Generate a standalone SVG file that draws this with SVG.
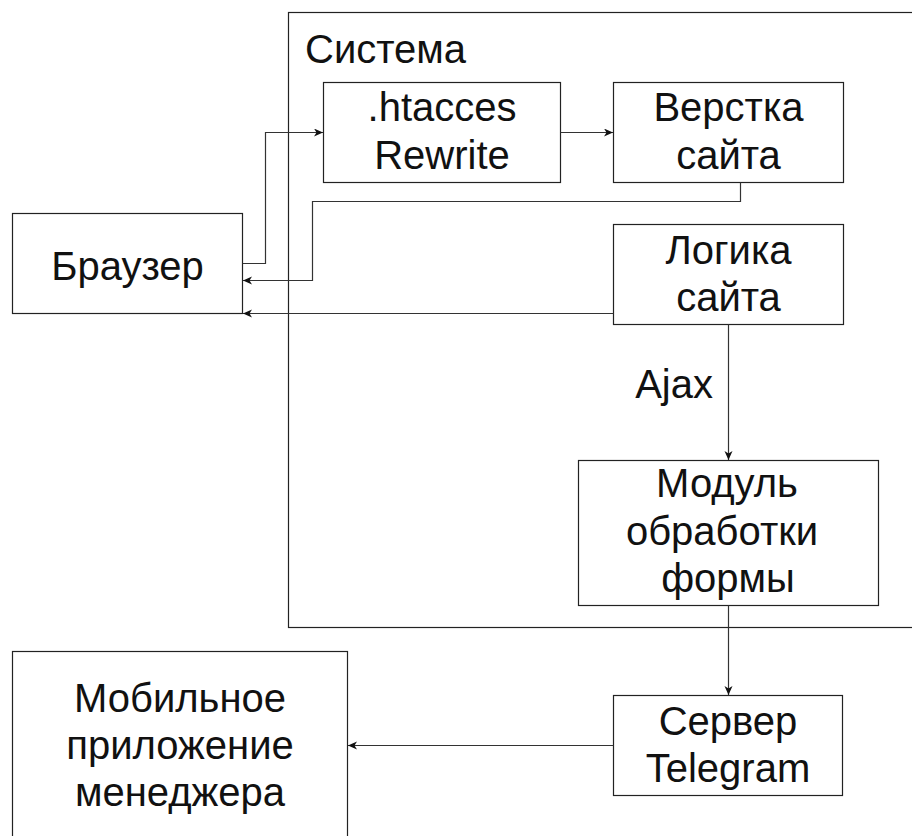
<svg xmlns="http://www.w3.org/2000/svg" width="912" height="836" viewBox="0 0 912 836">
  <style>
    .box { fill: #ffffff; stroke: #222222; stroke-width: 1.2; }
    .frame { fill: none; stroke: #222222; stroke-width: 1.2; }
    .conn { fill: none; stroke: #333333; stroke-width: 1.2; marker-end: url(#arrow); }
    .lbl { font-family: "Liberation Sans", Arial, sans-serif; font-size: 40px; fill: #111111; text-anchor: middle; }
    .lbl-start { text-anchor: start; }
    .lbl-end { text-anchor: end; }
  </style>
  <defs>
    <marker id="arrow" markerUnits="userSpaceOnUse" markerWidth="12" markerHeight="10" refX="9" refY="4" orient="auto">
      <path d="M0,0 L9,4 L0,8 L2.5,4 Z" fill="#111111"/>
    </marker>
  </defs>
  <rect width="912" height="836" fill="#ffffff"/>

  <g id="system">
    <rect class="frame" x="288.5" y="12.5" width="700" height="615"/>
    <text class="lbl lbl-start" x="305" y="63">Система</text>
  </g>

  <g id="browser">
    <rect class="box" x="12.5" y="213.5" width="230" height="100"/>
    <text class="lbl" x="127.5" y="280">Браузер</text>
  </g>

  <g id="htaccess">
    <rect class="box" x="323.5" y="82.5" width="237" height="100"/>
    <text class="lbl" x="442" y="121">.htacces</text>
    <text class="lbl" x="442" y="169">Rewrite</text>
  </g>

  <g id="layout">
    <rect class="box" x="613.5" y="82.5" width="230" height="100"/>
    <text class="lbl" x="728.5" y="121">Верстка</text>
    <text class="lbl" x="728.5" y="169">сайта</text>
  </g>

  <g id="logic">
    <rect class="box" x="613.5" y="224.5" width="230" height="100"/>
    <text class="lbl" x="728.5" y="264">Логика</text>
    <text class="lbl" x="728.5" y="311">сайта</text>
  </g>

  <g id="form-module">
    <rect class="box" x="578.5" y="460.5" width="300" height="145"/>
    <text class="lbl" x="727" y="497">Модуль</text>
    <text class="lbl" x="722" y="545">обработки</text>
    <text class="lbl" x="728" y="592">формы</text>
  </g>

  <g id="telegram">
    <rect class="box" x="613.5" y="695.5" width="229" height="100"/>
    <text class="lbl" x="728" y="735">Сервер</text>
    <text class="lbl" x="728" y="782">Telegram</text>
  </g>

  <g id="mobile">
    <rect class="box" x="12.5" y="651.5" width="335" height="190"/>
    <text class="lbl" x="180" y="712">Мобильное</text>
    <text class="lbl" x="180" y="759">приложение</text>
    <text class="lbl" x="180" y="806">менеджера</text>
  </g>

  <g id="connectors">
    <path class="conn" d="M242.5,263.5 H265.5 V132.5 H323"/>
    <path class="conn" d="M560.5,132.5 H613"/>
    <path class="conn" d="M740.5,182.5 V201.5 H312.5 V280.5 H243"/>
    <path class="conn" d="M613.5,313.5 H243"/>
    <path class="conn" d="M728.5,324.5 V460"/>
    <text class="lbl lbl-end" x="713" y="398">Ajax</text>
    <path class="conn" d="M728.5,605.5 V695"/>
    <path class="conn" d="M613.5,745.5 H348"/>
  </g>
</svg>
